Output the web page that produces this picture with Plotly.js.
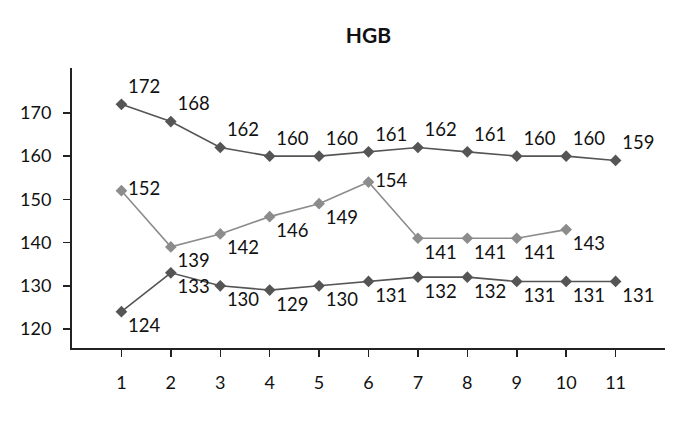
<!DOCTYPE html>
<html>
<head>
<meta charset="utf-8">
<script src="https://cdn.plot.ly/plotly-3.0.1.min.js"></script>
<style>
  html, body { margin: 0; padding: 0; background: #fff; }
  #chart { width: 699px; height: 430px; }
</style>
</head>
<body>
<div id="chart"></div>
<script>
// Data
const days = [1, 2, 3, 4, 5, 6, 7, 8, 9, 10, 11];
const upper = [172, 168, 162, 160, 160, 161, 162, 161, 160, 160, 159];
const middle = [152, 139, 142, 146, 149, 154, 141, 141, 141, 143];
const lower = [124, 133, 130, 129, 130, 131, 132, 132, 131, 131, 131];
const yTicks = [120, 130, 140, 150, 160, 170];

const labelFont = { family: 'Lato, "Open Sans", sans-serif', size: 18.5, color: '#111' };
const dark = '#555555';
const light = '#8c8c8c';

function series(y, color, positions) {
    return {
        x: days.slice(0, y.length),
        y: y,
        type: 'scatter',
        mode: 'lines+markers+text',
        text: y.map(String),
        textposition: positions,
        textfont: labelFont,
        line: { color: color, width: 1.6 },
        marker: { symbol: 'diamond', size: 9, color: color },
        cliponaxis: false,
        hoverinfo: 'skip'
    };
}

const midPos = ['middle right', 'bottom right', 'bottom right', 'bottom right', 'bottom right',
                'middle right', 'bottom right', 'bottom right', 'bottom right', 'bottom right'];

const data = [
    series(upper, dark, 'top right'),
    series(middle, light, midPos),
    series(lower, dark, 'bottom right')
];

const layout = {
    width: 699,
    height: 430,
    margin: { l: 72, r: 34, t: 68, b: 82 },
    paper_bgcolor: '#fff',
    plot_bgcolor: '#fff',
    showlegend: false,
    font: { family: 'Lato, "Open Sans", sans-serif', size: 18, color: '#111' },
    title: {
        text: '<b>HGB</b>',
        font: { family: 'Lato, "Open Sans", sans-serif', size: 21, color: '#111' },
        x: 0.527, xanchor: 'center',
        y: 0.918, yanchor: 'middle'
    },
    xaxis: {
        range: [0, 12],
        tickvals: days,
        ticktext: days.map(String),
        ticks: 'outside',
        ticklen: 7,
        tickwidth: 1.5,
        tickcolor: '#222',
        showline: true,
        linecolor: '#222',
        linewidth: 2,
        showgrid: false,
        zeroline: false,
        ticklabelstandoff: 10
    },
    yaxis: {
        range: [115.6, 180.4],
        tickvals: yTicks,
        ticks: 'outside',
        ticklen: 7,
        tickwidth: 1.5,
        tickcolor: '#222',
        showline: true,
        linecolor: '#222',
        linewidth: 2,
        showgrid: false,
        zeroline: false,
        ticklabelstandoff: 8
    }
};

Plotly.newPlot('chart', data, layout, { displayModeBar: false, staticPlot: true });
</script>
</body>
</html>
